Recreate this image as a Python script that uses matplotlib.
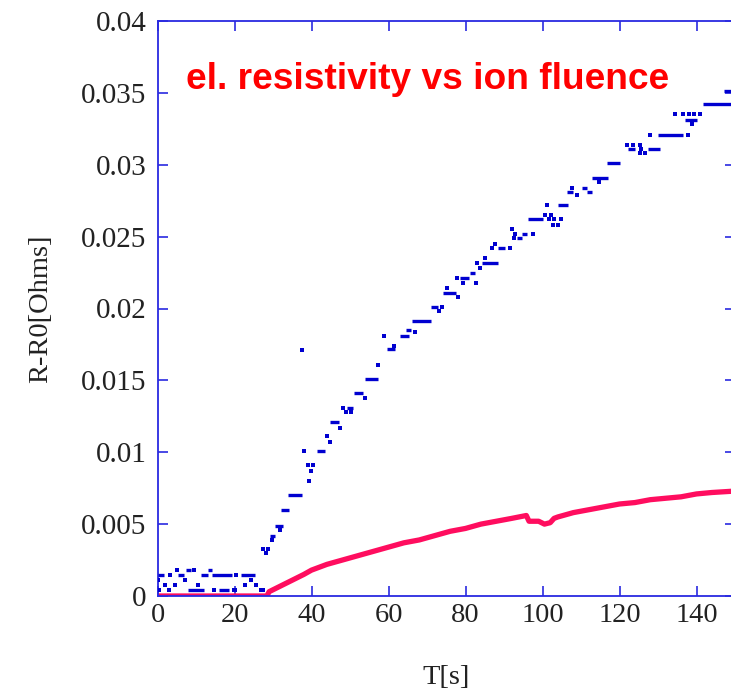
import numpy as np
import matplotlib.pyplot as plt

# R-R0 vs time, two samples: blue (dots / flat runs), red (thick line)

# blue series, flat runs: start time, end time, value
blue_run_t0 = [0.0, 5.4, 11.4, 14.2, 21.6, 7.4, 13.0, 8.0, 16.0,
               29.2, 30.6, 32.2, 33.9, 41.4, 44.8, 49.1, 51.0, 54.0,
               59.5, 63.0, 64.5, 66.0, 71.0, 74.1, 78.6, 81.2, 84.2,
               88.5, 93.4, 94.6, 96.3, 104.1, 106.4, 110.2, 111.5, 112.8,
               116.7, 122.2, 127.5, 130.1, 137.0, 141.8, 147.2]
blue_run_t1 = [1.6, 7.0, 13.0, 19.4, 25.2, 8.6, 14.2, 12.2, 18.6,
               30.5, 32.6, 34.2, 37.5, 43.5, 47.2, 50.9, 53.5, 57.2,
               61.8, 65.4, 65.8, 71.0, 72.9, 77.5, 80.9, 82.5, 88.4,
               90.3, 94.8, 95.9, 100.2, 106.7, 108.0, 111.6, 112.9, 117.1,
               120.1, 123.9, 130.5, 136.6, 140.0, 149.5, 149.5]
blue_run_v = [0.00144, 0.00144, 0.00144, 0.00144, 0.00144, 0.0018, 0.0018, 0.00045, 0.00045,
              0.0042, 0.0049, 0.0060, 0.0070, 0.0101, 0.0121, 0.0131, 0.0141, 0.0151,
              0.0172, 0.0181, 0.0185, 0.0191, 0.0201, 0.0211, 0.0221, 0.0225, 0.0232,
              0.0242, 0.0249, 0.0252, 0.0262, 0.0272, 0.0281, 0.0284, 0.0281, 0.0291,
              0.0301, 0.0311, 0.0311, 0.0321, 0.0331, 0.0342, 0.0351]

# blue series, single points
blue_dot_t = [3.3, 20.4, 0.2, 7.2, 24.4, 5.1, 9.4, 2.0, 4.5, 10.6, 22.7, 25.6,
              0.3, 3.0, 14.6, 19.8, 20.2, 26.8, 27.3,
              27.5, 28.8, 28.2, 29.7, 31.8, 37.6, 38.1, 39.2, 40.5, 39.8, 39.4,
              44.1, 44.8, 47.4, 48.1, 48.9, 50.2, 53.9, 57.4,
              58.8, 61.4, 66.9, 73.1, 73.8, 75.1, 78.0, 77.7, 79.3, 82.7,
              83.1, 83.8, 85.1, 87.7, 86.8, 91.6, 92.6, 92.9, 97.5, 92.2,
              101.8, 103.1, 104.7, 102.6, 104.0, 100.6, 102.1, 101.2,
              107.6, 108.9, 114.7,
              122.0, 123.6, 125.2, 125.5, 125.4, 126.5, 127.9, 137.9, 134.4,
              136.6, 138.0, 139.4, 140.8, 138.8]
blue_dot_v = [0.00144, 0.00144, 0.0011, 0.0011, 0.0011, 0.0018, 0.0018, 0.00075, 0.00075, 0.00075, 0.00075, 0.00075,
              0.00045, 0.00045, 0.00045, 0.00045, 0.00045, 0.00045, 0.00045,
              0.0033, 0.0033, 0.0030, 0.0039, 0.0046, 0.0171, 0.0101, 0.0091, 0.0091, 0.0087, 0.0080,
              0.0111, 0.0107, 0.0117, 0.0131, 0.0128, 0.0128, 0.0138, 0.0161,
              0.0181, 0.0174, 0.0184, 0.0198, 0.0201, 0.0214, 0.0208, 0.0221, 0.0218, 0.0218,
              0.0232, 0.0228, 0.0235, 0.0245, 0.0242, 0.0242, 0.0249, 0.0252, 0.0252, 0.0255,
              0.0262, 0.0262, 0.0262, 0.0258, 0.0258, 0.0265, 0.0265, 0.0272,
              0.0284, 0.0279, 0.0288,
              0.0314, 0.0314, 0.0314, 0.0311, 0.0308, 0.0308, 0.0321, 0.0321, 0.0335,
              0.0335, 0.0335, 0.0335, 0.0335, 0.0328]

# red series
red_t = [0, 28.4, 29, 32, 35, 38, 40, 44, 48, 52, 56, 60, 64, 68, 72, 76, 80,
         84, 88, 92, 95.8, 96.5, 99, 100.5, 102, 103, 104, 108, 112, 116,
         120, 124, 128, 132, 136, 140, 144, 150]
red_v = [0, 0, 0.0003, 0.0007, 0.0011, 0.0015, 0.0018, 0.0022, 0.0025, 0.0028,
         0.0031, 0.0034, 0.0037, 0.0039, 0.0042, 0.0045, 0.0047, 0.0050, 0.0052,
         0.0054, 0.0056, 0.0052, 0.0052, 0.0050, 0.0051, 0.0054, 0.0055, 0.0058,
         0.0060, 0.0062, 0.0064, 0.0065, 0.0067, 0.0068, 0.0069, 0.0071, 0.0072,
         0.0073]

x_ticks = [0, 20, 40, 60, 80, 100, 120, 140]
y_ticks = [0, 0.005, 0.01, 0.015, 0.02, 0.025, 0.03, 0.035, 0.04]
y_tick_labels = ['0', '0.005', '0.01', '0.015', '0.02', '0.025', '0.03', '0.035', '0.04']

axcol = '#2a2ae0'
bluec = '#0000d0'
redc = '#ff0d5f'
serif = ['Liberation Serif', 'DejaVu Serif']

fig = plt.figure(figsize=(7.31, 6.98), dpi=100)
ax = fig.add_axes([157.5/731, 102/698, (735-157.5)/731, 575/698])

ax.plot(red_t, red_v, color=redc, lw=3.8, solid_capstyle='butt', zorder=2)
ax.hlines(blue_run_v, blue_run_t0, blue_run_t1, colors=bluec, lw=2.4, zorder=3)
ax.plot(blue_dot_t, blue_dot_v, 's', color=bluec, ms=2.6, mew=0, zorder=3)

ax.set_xlim(0, 150)
ax.set_ylim(0, 0.04)
ax.set_xticks(x_ticks)
ax.set_xticklabels([str(v) for v in x_ticks], fontfamily=serif, fontsize=20.5)
ax.set_yticks(y_ticks)
ax.set_yticklabels(y_tick_labels, fontfamily=serif, fontsize=21)
ax.tick_params(direction='in', top=True, right=True, length=7, width=1.2,
               color=axcol, labelcolor='#222222')
ax.tick_params(axis='x', pad=5)
ax.tick_params(axis='y', pad=8)
for s in ax.spines.values():
    s.set_color(axcol)
    s.set_linewidth(1.3)

ax.set_xlabel('T[s]', fontfamily=serif, fontsize=20.5, color='#222222', labelpad=27)
ax.set_ylabel('R-R0[Ohms]', fontfamily=serif, fontsize=20.5, color='#222222', labelpad=20)

fig.text(186/731, 1-89/698, 'el. resistivity vs ion fluence', color='#ff0000',
         fontsize=26.7, fontweight='bold', family=['Liberation Sans', 'DejaVu Sans'],
         va='baseline', ha='left')

fig.savefig('out.png', dpi=100)
